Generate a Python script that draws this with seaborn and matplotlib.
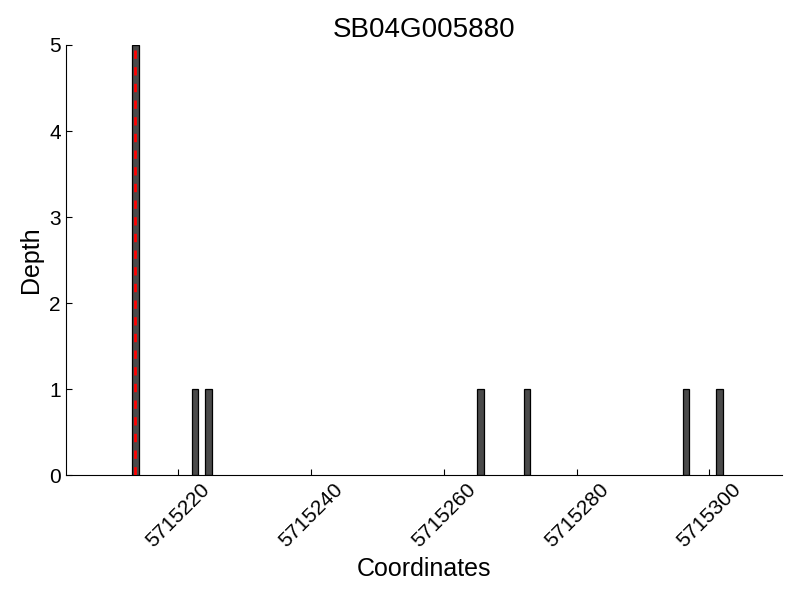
import pandas as pd
import matplotlib
matplotlib.use('Agg')
import matplotlib.pyplot as plt
import seaborn as sns

# read depth per coordinate for the gene
gene = 'SB04G005880'
coords = [5715213, 5715222, 5715224, 5715265, 5715272, 5715296, 5715301]
depths = [5, 1, 1, 1, 1, 1, 1]
marker_pos = 5715213  # red dashed marker
x_ticks = [5715220, 5715240, 5715260, 5715280, 5715300]
y_ticks = [0, 1, 2, 3, 4, 5]
x_range = (5715203, 5715311)

# each base covers [pos, pos + 1), so bars sit on the base centre
df = pd.DataFrame({'Coordinates': coords, 'Depth': depths})
df['centre'] = df['Coordinates'] + 0.5

sns.set_style('ticks')
plt.rcParams['font.family'] = ['Liberation Sans', 'DejaVu Sans']
plt.rcParams['xtick.direction'] = 'in'
plt.rcParams['ytick.direction'] = 'in'
for k in ['text.color', 'axes.labelcolor', 'xtick.color', 'ytick.color', 'axes.edgecolor']:
    plt.rcParams[k] = 'black'

fig, ax = plt.subplots(figsize=(8, 6), dpi=100)
# native_scale width is relative to the smallest gap (2 bp) -> 0.5 gives 1 bp bars
sns.barplot(data=df, x='centre', y='Depth', native_scale=True, width=0.5,
            color='#4a4a4a', saturation=1, errorbar=None,
            edgecolor='black', linewidth=0.9, ax=ax)
ax.axvline(marker_pos + 0.5, color='red', linestyle=(0, (3, 3)), linewidth=2, zorder=5)

ax.set_xlim(*x_range)
ax.set_ylim(0, 5)
ax.set_xticks(x_ticks)
ax.set_yticks(y_ticks)
ax.ticklabel_format(axis='x', useOffset=False, style='plain')
ax.tick_params(axis='both', labelsize=15, length=4, width=0.8)
plt.xticks(rotation=45)
sns.despine(ax=ax)

ax.set_title(gene, fontsize=20)
ax.set_xlabel('Coordinates', fontsize=18)
ax.set_ylabel('Depth', fontsize=18)

fig.subplots_adjust(left=0.082, right=0.978, bottom=0.208, top=0.925)
plt.savefig('out.png')
